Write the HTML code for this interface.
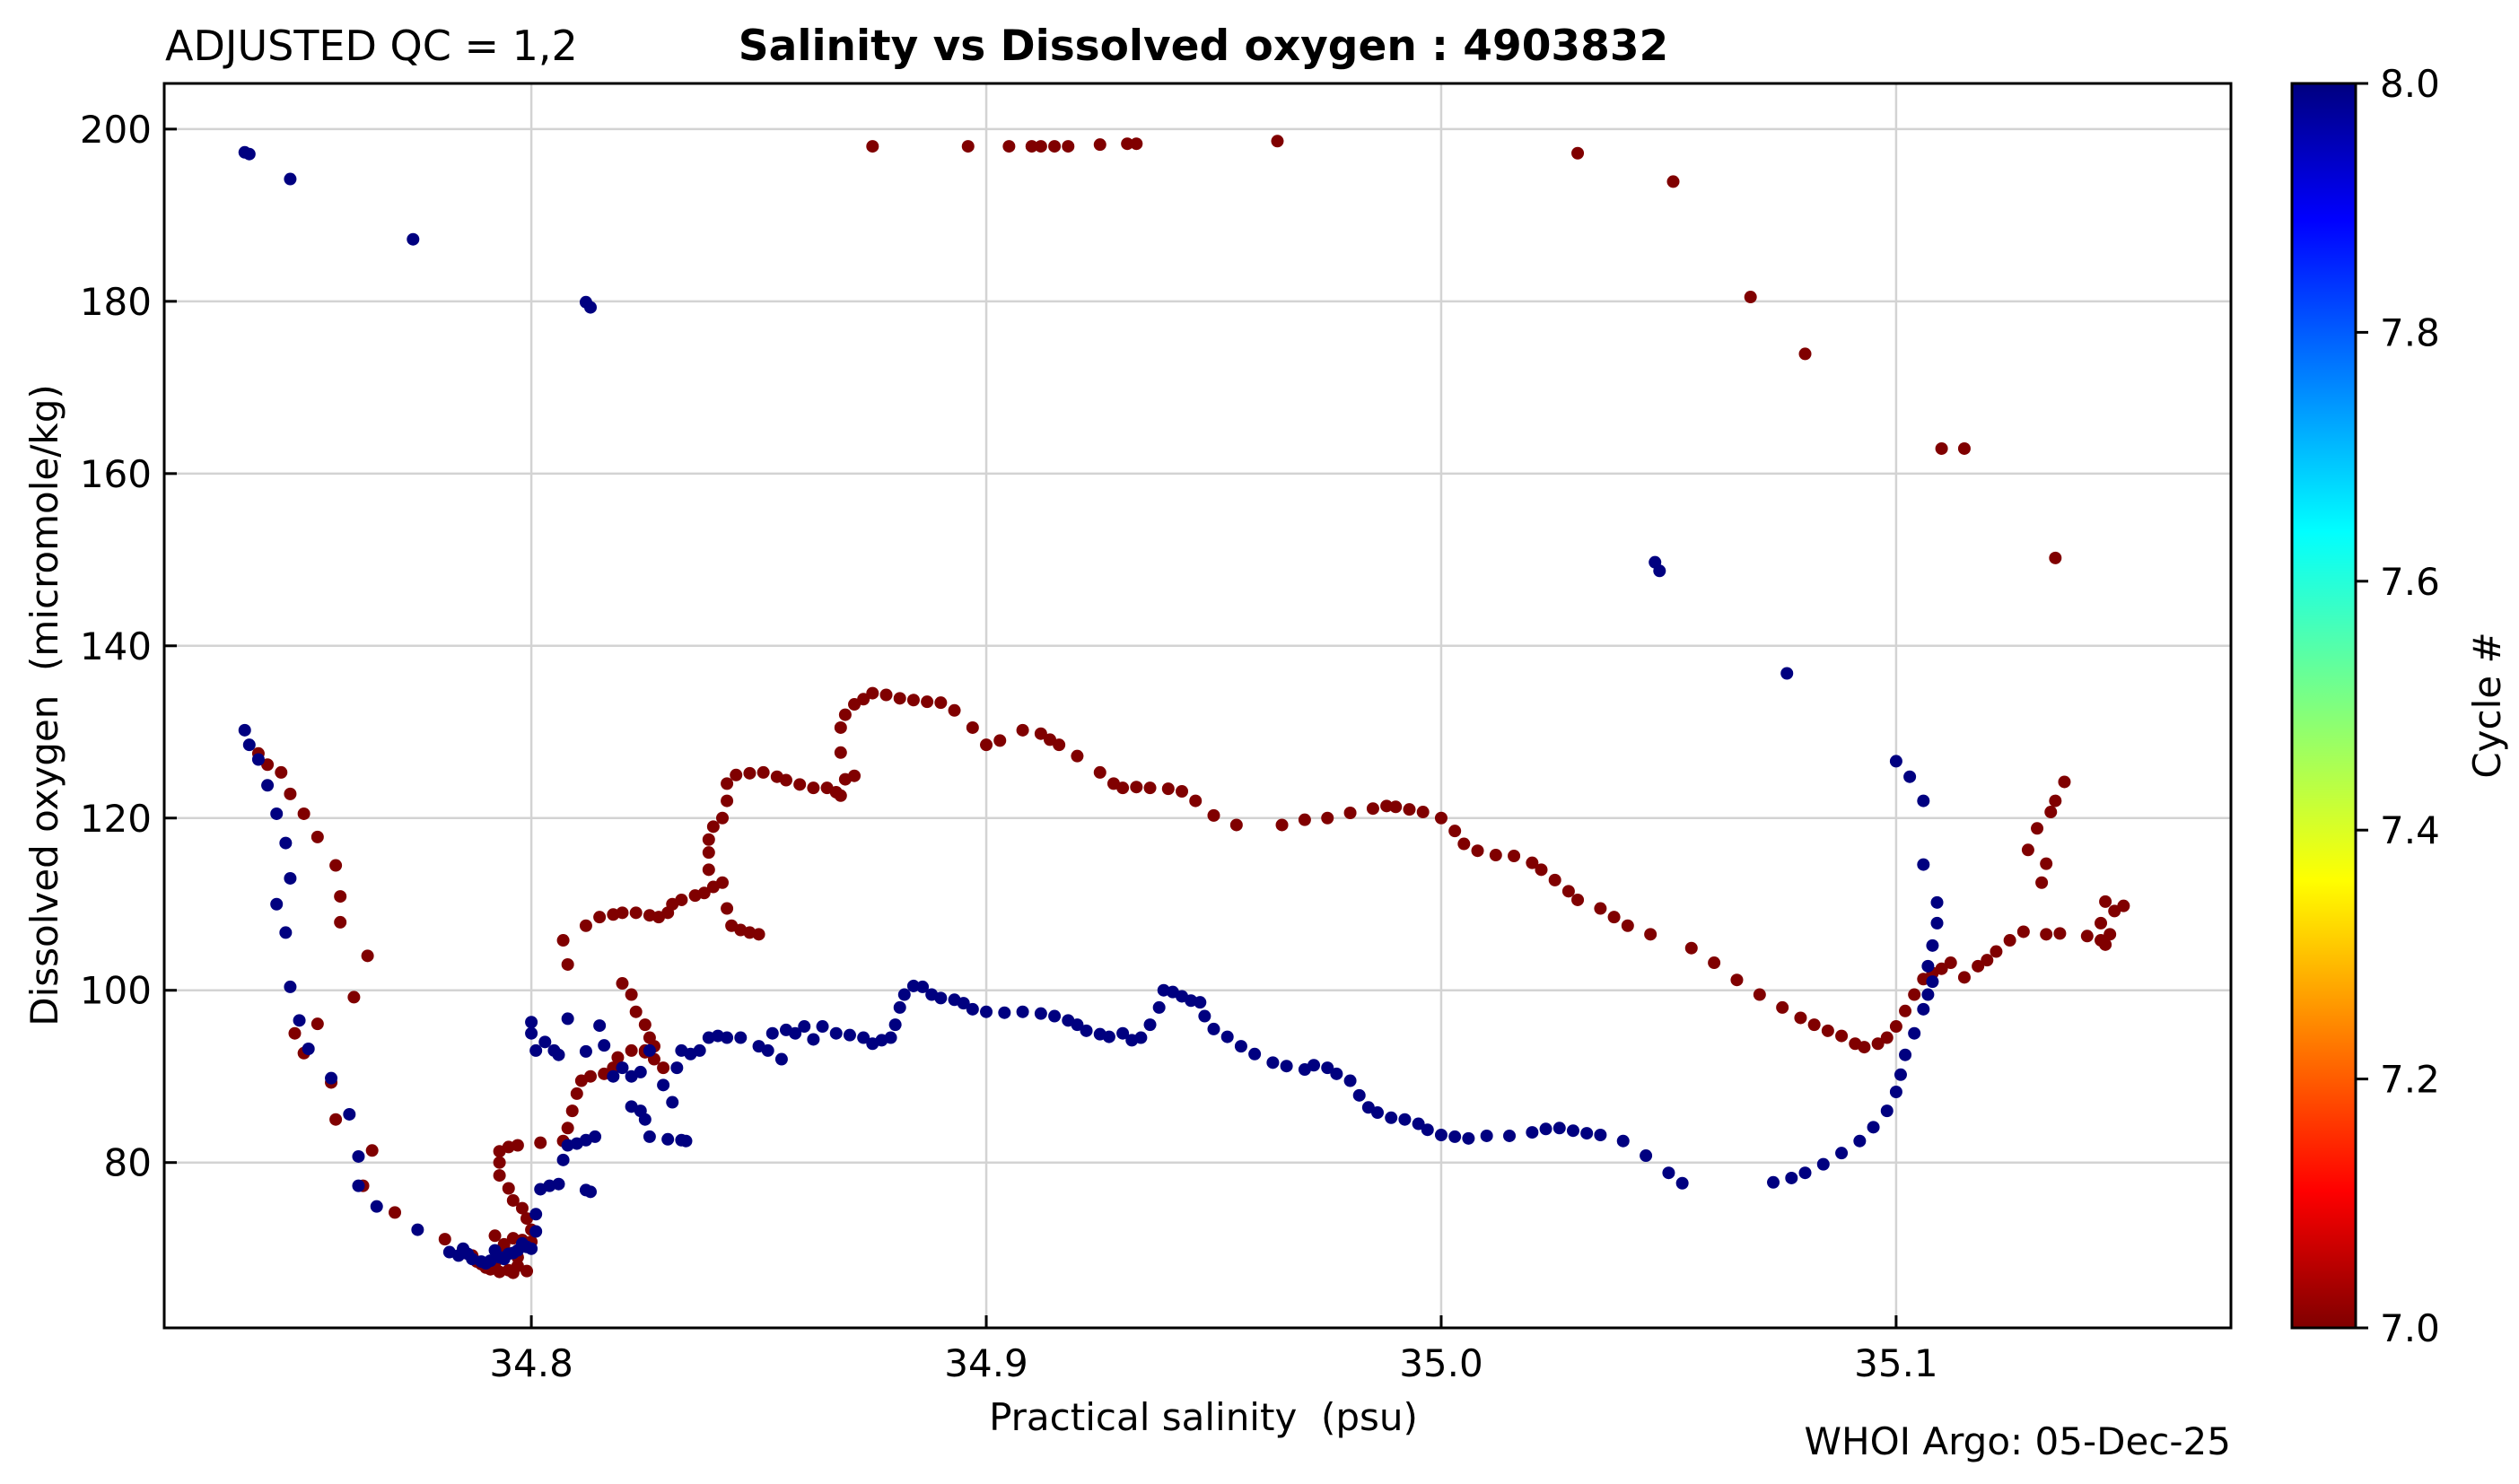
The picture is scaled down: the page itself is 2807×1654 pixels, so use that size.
<!DOCTYPE html>
<html><head><meta charset="utf-8"><style>
html,body{margin:0;padding:0;background:#fff;}
svg text{font-family:"DejaVu Sans","Liberation Sans",sans-serif;fill:#000;white-space:pre;}
</style></head><body>
<svg id="chart" width="2807" height="1649" viewBox="0 0 2807 1649" xmlns="http://www.w3.org/2000/svg">
<defs><linearGradient id="jet" x1="0" y1="1" x2="0" y2="0">
<stop offset="0" stop-color="#800000"/><stop offset="0.11" stop-color="#ff0000"/><stop offset="0.36" stop-color="#ffff00"/><stop offset="0.5" stop-color="#7fff7f"/><stop offset="0.64" stop-color="#00ffff"/><stop offset="0.89" stop-color="#0000ff"/><stop offset="1" stop-color="#000080"/></linearGradient></defs>
<rect width="2807" height="1649" fill="#fff"/>
<g id="grid"></g>
<g id="marks"></g>
<rect x="183" y="93" width="2303" height="1387" fill="none" stroke="#000" stroke-width="3"/>
<g id="ticks"></g>
<text x="184" y="67" font-size="46">ADJUSTED QC = 1,2</text>
<text x="1341" y="67" font-size="47" font-weight="bold" text-anchor="middle">Salinity vs Dissolved oxygen : 4903832</text>
<text x="1341" y="1594" font-size="42" text-anchor="middle" xml:space="preserve">Practical salinity  (psu)</text>
<text x="0" y="0" font-size="42" text-anchor="middle" xml:space="preserve" transform="translate(64,786) rotate(-90)">Dissolved oxygen  (micromole/kg)</text>
<text x="2486" y="1621" font-size="42" text-anchor="end">WHOI Argo: 05-Dec-25</text>
<rect x="2554" y="93" width="71" height="1387" fill="url(#jet)" stroke="#000" stroke-width="3"/>
<g id="cbticks"></g>
<text x="0" y="0" font-size="42" text-anchor="middle" transform="translate(2786,786) rotate(-90)">Cycle #</text>
</svg>
<script>
const xTicks=[34.8,34.9,35.0,35.1];
const xTickLabels=["34.8","34.9","35.0","35.1"];
const yTicks=[80,100,120,140,160,180,200];
const yTickLabels=["80","100","120","140","160","180","200"];
const cbTicks=[7.0,7.2,7.4,7.6,7.8,8.0];
const cbTickLabels=["7.0","7.2","7.4","7.6","7.8","8.0"];
const cycle7Sal=[34.875,34.896,34.905,34.910,34.912,34.915,34.918,34.925,34.931,34.933,34.964,35.030,35.051,35.068,35.080,35.110,35.115,35.135,
34.740,34.742,34.745,34.747,34.750,34.753,34.757,34.758,34.758,34.761,34.764,34.748,34.750,34.753,34.756,34.757,34.763,34.765,34.770,34.781,34.785,34.788,34.790,34.792,34.795,34.797,34.794,34.796,34.798,34.800,34.798,34.796,34.795,34.793,34.793,34.793,34.795,34.797,34.802,
34.787,34.789,34.791,34.793,34.796,34.799,34.797,34.794,34.792,34.800,34.799,
34.807,34.808,34.809,34.810,34.811,34.813,34.816,34.818,34.819,34.822,34.825,34.827,34.829,34.825,34.820,34.822,34.823,34.825,34.826,34.827,
34.808,34.807,34.812,34.815,34.818,34.820,34.823,34.826,34.828,34.830,34.831,34.833,34.836,34.838,34.840,34.842,34.843,34.844,34.846,34.848,34.850,
34.839,34.839,34.839,34.840,34.842,34.843,34.843,34.845,34.848,34.851,34.854,34.856,34.859,34.862,34.865,34.867,34.868,34.869,34.871,34.868,34.868,34.869,34.871,34.873,34.875,34.878,34.881,34.884,34.887,34.890,34.893,34.897,34.900,34.903,34.908,34.912,34.914,34.916,34.920,34.925,34.928,34.930,34.933,34.936,34.940,34.943,34.946,34.950,34.955,34.965,34.970,34.975,34.980,34.985,34.988,34.990,34.993,34.996,35.000,35.003,35.005,35.008,35.012,35.016,35.020,35.022,35.025,35.028,35.030,35.035,35.038,35.041,35.046,35.055,35.060,35.065,35.070,35.075,35.079,35.082,35.085,35.088,35.091,35.093,35.096,35.098,35.100,35.102,35.104,35.106,35.108,35.110,35.112,35.115,35.118,35.120,35.122,35.125,35.128,35.133,35.136,35.142,35.145,35.146,35.147,35.148,35.150,35.146,35.145,
35.129,35.131,35.132,35.133,35.134,35.135,35.137];
const cycle7Oxy=[198,198,198,198,198,198,198,198.2,198.3,198.3,198.6,197.2,193.9,180.5,173.9,162.9,162.9,150.2,
127.5,126.2,125.3,122.8,120.5,117.8,114.5,110.9,107.9,99.2,104,95,92.7,96.1,89.3,85,77.3,81.4,74.2,71.1,69.5,68.5,67.8,68.3,67.5,68,70,71.2,71,72.2,74.7,75.6,77,78.5,80,81.3,81.8,82,82.3,
69.2,68.2,67.6,67.3,67.2,67.4,69,70.5,71.5,70.8,73.5,
82.5,84,86,88,89.5,90,90.3,91,92.2,93,93,92,91,92.8,100.8,99.5,97.5,96,94.5,93.5,
103,105.8,107.5,108.5,108.8,109,109,108.7,108.5,109,110,110.5,111,111.3,112,112.5,109.5,107.5,107,106.7,106.5,
114,116,117.5,119,120,122,124,125,125.2,125.3,124.8,124.4,123.9,123.5,123.5,123,122.6,124.5,124.9,127.6,130.5,132,133.2,133.8,134.5,134.3,133.9,133.7,133.5,133.4,132.5,130.5,128.5,129,130.2,129.8,129.1,128.5,127.2,125.3,124,123.5,123.6,123.5,123.4,123.1,122,120.3,119.2,119.2,119.8,120,120.6,121.1,121.4,121.3,121,120.7,120,118.5,117,116.2,115.7,115.6,114.8,114,112.8,111.5,110.5,109.5,108.5,107.5,106.5,104.9,103.2,101.2,99.5,98,96.8,96,95.3,94.7,93.8,93.4,93.8,94.5,95.8,97.6,99.5,101.3,102,102.5,103.2,101.5,102.8,103.5,104.5,105.8,106.8,106.5,106.6,106.3,105.8,105.3,106.5,109.2,109.8,110.3,107.8,
116.3,118.8,112.5,114.7,120.7,122,124.2];
const cycle8Sal=[34.737,34.738,34.747,34.774,34.812,34.813,
34.737,34.738,34.740,34.742,34.744,34.744,34.746,34.747,34.746,34.747,34.749,34.751,34.756,34.760,34.762,34.762,34.766,34.775,34.782,34.785,
34.784,34.787,34.789,34.791,34.793,34.795,34.797,34.799,34.790,34.794,34.796,34.798,34.786,34.792,
34.800,34.801,34.801,34.802,34.804,34.806,34.807,34.808,34.810,34.812,34.814,34.812,34.813,
34.800,34.800,34.801,34.803,34.805,34.806,34.808,34.812,34.815,34.816,34.818,34.820,34.822,34.824,34.826,34.822,34.824,34.825,34.826,34.829,34.831,34.832,34.833,34.830,34.833,34.834,34.835,34.837,34.839,34.841,34.843,34.846,34.850,34.852,34.853,34.855,34.856,34.858,34.860,34.862,34.864,34.867,34.870,34.873,34.875,34.877,34.879,34.880,34.881,34.882,34.884,34.886,34.888,34.890,34.893,34.895,34.897,34.900,34.904,34.908,34.912,34.915,34.918,34.920,34.922,34.925,34.927,34.930,34.932,34.934,34.936,34.938,34.939,34.941,34.943,34.945,34.947,34.948,34.950,34.953,34.956,34.959,34.963,34.966,34.970,34.972,34.975,34.977,34.980,34.982,34.984,34.986,34.989,34.992,34.995,34.997,35.000,35.003,35.006,35.010,35.015,35.020,35.023,35.026,35.029,35.032,35.035,35.040,35.045,35.050,35.053,
35.073,35.077,35.080,35.084,35.088,35.092,35.095,35.098,35.100,35.101,35.102,35.104,35.106,35.107,35.108,35.107,35.108,35.109,35.109,35.106,35.106,35.103,35.100,
35.047,35.048,35.076];
const cycle8Oxy=[197.3,197.1,194.2,187.2,179.9,179.3,
130.2,128.5,126.8,123.8,120.5,110.0,117.1,113.0,106.7,100.4,96.5,93.2,89.8,85.6,80.7,77.3,74.9,72.2,69.6,70.0,
69.2,68.8,68.5,68.6,69,69.4,69.8,70.2,68.3,68.8,69.5,70.6,69.4,69.8,
70,72,74,76.9,77.3,77.5,80.3,82,82.2,82.6,83,76.8,76.6,
96.3,95,93,94,93,92.5,96.7,92.9,95.9,93.6,90,91,90,90.5,93,86.5,86,85,83,89,87,91,93,82.7,82.6,82.5,92.6,93,94.5,94.7,94.5,94.5,93.5,93,95,92,95.4,95,95.8,94.3,95.8,95,94.8,94.5,93.8,94.2,94.5,96,98,99.5,100.5,100.4,99.5,99.1,98.9,98.5,97.8,97.5,97.4,97.5,97.3,97.0,96.5,96,95.3,94.9,94.6,95,94.2,94.5,96,98,100,99.8,99.3,98.8,98.6,97,95.5,94.6,93.5,92.6,91.6,91.2,90.8,91.3,91,90.3,89.5,87.8,86.4,85.8,85.2,85,84.5,83.8,83.2,83,82.8,83.1,83.1,83.5,83.9,84,83.7,83.4,83.2,82.5,80.8,78.8,77.6,
77.7,78.2,78.8,79.8,81.1,82.5,84.1,86,88.2,90.2,92.5,95,97.8,99.5,101,102.8,105.2,107.8,110.2,114.6,122,124.8,126.6,
149.7,148.7,136.8];

const L=183,R=2486,T=93,B=1480;
const xMin=34.7193,xMax=35.1736,yMin=60.8,yMax=205.3;
function sx(v){return L+(v-xMin)/(xMax-xMin)*(R-L);}
function sy(v){return B-(v-yMin)/(yMax-yMin)*(B-T);}
function cy(v){return B-(v-7)/(1)*(B-T);}
const NS='http://www.w3.org/2000/svg';
function mk(tag,attrs,parent){const e=document.createElementNS(NS,tag);for(const k in attrs)e.setAttribute(k,attrs[k]);parent.appendChild(e);return e;}
const grid=document.getElementById('grid'),ticks=document.getElementById('ticks'),marks=document.getElementById('marks'),cbt=document.getElementById('cbticks');
xTicks.forEach((v,i)=>{
  const g=mk('line',{x1:sx(v),x2:sx(v),y1:T,y2:B,stroke:'#d3d3d3','stroke-width':2.5},grid);
  
  
  const t=mk('line',{x1:sx(v),x2:sx(v),y1:B,y2:B-14,stroke:'#000','stroke-width':3},ticks);
  
  
  const l=mk('text',{x:sx(v),y:B+54,'font-size':42,'text-anchor':'middle'},ticks);
  l.textContent=xTickLabels[i];
  
  
});
yTicks.forEach((v,i)=>{
  const g=mk('line',{x1:L,x2:R,y1:sy(v),y2:sy(v),stroke:'#d3d3d3','stroke-width':2.5},grid);
  
  
  const t=mk('line',{x1:L,x2:L+14,y1:sy(v),y2:sy(v),stroke:'#000','stroke-width':3},ticks);
  
  
  const l=mk('text',{x:L-14,y:sy(v)+15,'font-size':42,'text-anchor':'end'},ticks);
  l.textContent=yTickLabels[i];
  
  
});
cbTicks.forEach((v,i)=>{
  const t=mk('line',{x1:2625,x2:2639,y1:cy(v),y2:cy(v),stroke:'#000','stroke-width':3},cbt);
  
  
  const l=mk('text',{x:2652,y:cy(v)+15,'font-size':42},cbt);
  l.textContent=cbTickLabels[i];
  
  
});
cycle7Sal.forEach((s,i)=>{
  const c=mk('circle',{cx:sx(s),cy:sy(cycle7Oxy[i]),r:7,fill:'#800000'},marks);
  
  
});
cycle8Sal.forEach((s,i)=>{
  const c=mk('circle',{cx:sx(s),cy:sy(cycle8Oxy[i]),r:7,fill:'#000080'},marks);
  
  
});
</script>
</body></html>
